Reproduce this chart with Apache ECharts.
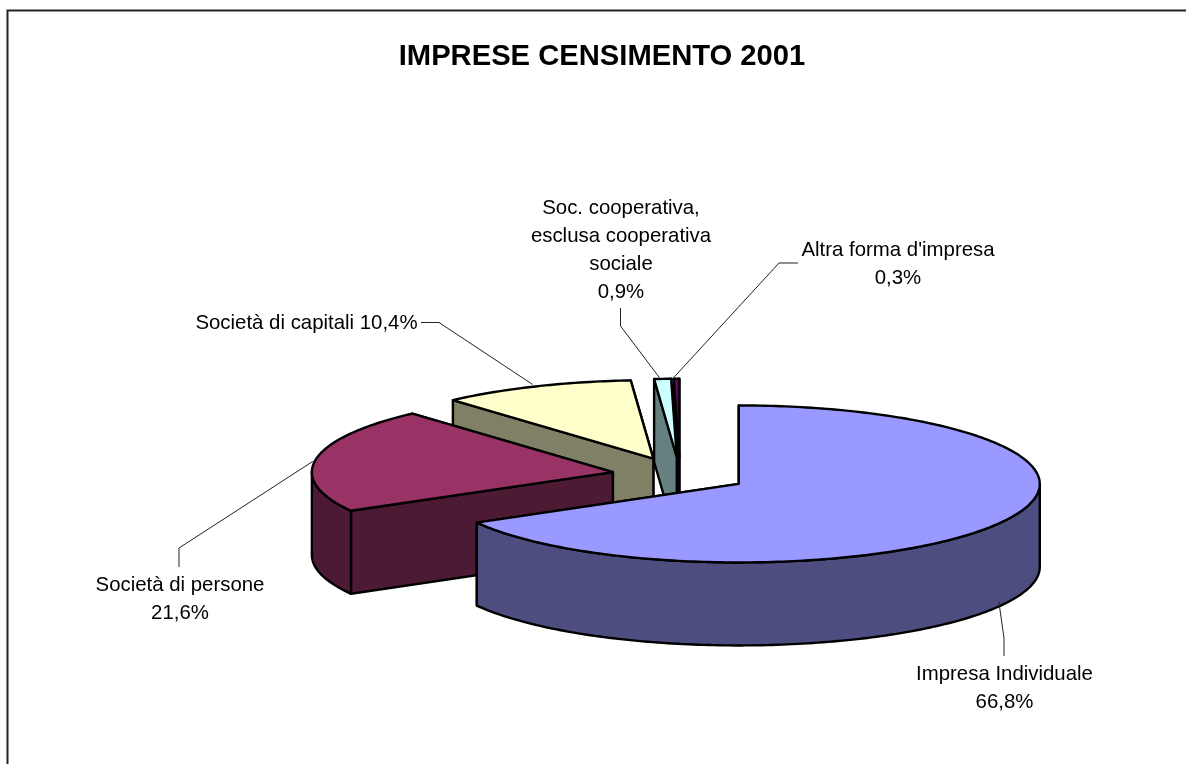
<!DOCTYPE html>
<html>
<head>
<meta charset="utf-8">
<style>html,body{margin:0;padding:0;background:#fff}#chart{width:1186px;height:764px}</style>
<script src="https://cdn.jsdelivr.net/npm/echarts@6/dist/echarts.min.js"></script>
</head>
<body>
<div id="chart"></div>
<script>
// Data
const categories = ['Impresa Individuale', 'Società di persone', 'Società di capitali', 'Soc. cooperativa, esclusa cooperativa sociale', "Altra forma d'impresa"];
const shares = [66.8, 21.6, 10.4, 0.9, 0.3];
const shareLabels = ['66,8%', '21,6%', '10,4%', '0,9%', '0,3%'];
const chartTitle = 'IMPRESE CENSIMENTO 2001';

// Styles and layout
const topColors = ['#9999FF', '#993366', '#FFFFCC', '#CCFFFF', '#660066'];
const sideColors = ['#4D4D80', '#4D1A33', '#808066', '#668080', '#330033'];
const paintOrder = [2, 4, 3, 1, 0];
const labelTexts = [
  'Impresa Individuale\n66,8%',
  'Società di persone\n21,6%',
  'Società di capitali 10,4%',
  'Soc. cooperativa,\nesclusa cooperativa\nsociale\n0,9%',
  "Altra forma d'impresa\n0,3%"
];
const labelCenters = [[1004.5, 688], [180, 599.5], [306.5, 323], [621, 250], [898, 264.5]];
const leaderElbows = [
  [[1004, 656], [1004, 638]],
  [[179, 567], [179, 548]],
  [[421, 322.5], [439, 322.5]],
  [[620.5, 308], [620.5, 326]],
  [[798, 263], [779, 263]]
];
const leaderShift = [[0, 0], [-3, 2], [-3, -2], [-3, -1], [-3, -1]];
const leaderDrop = [78, 0, 0, 0, 0];
const pie = {cx: 680, cy: 475, rx: 301, ry: 78.5, depth: 83, explode: 0.226};
const FONT = '"Liberation Sans", Arial, sans-serif';

const total = shares.reduce((a, b) => a + b, 0);
const slices = [];
let acc = 0;
shares.forEach((v) => {
  const a0 = acc / total * 2 * Math.PI;
  acc += v;
  const a1 = acc / total * 2 * Math.PI;
  const m = (a0 + a1) / 2;
  slices.push({a0, a1, m,
    ox: pie.cx + pie.explode * pie.rx * Math.sin(m),
    oy: pie.cy - pie.explode * pie.ry * Math.cos(m)});
});
function rim(s, a, dz) {
  return [s.ox + pie.rx * Math.sin(a), s.oy - pie.ry * Math.cos(a) + (dz || 0)];
}
function arcPts(s, a0, a1, dz) {
  const n = Math.max(2, Math.ceil((a1 - a0) / (Math.PI / 180)));
  const out = [];
  for (let i = 0; i <= n; i++) out.push(rim(s, a0 + (a1 - a0) * i / n, dz));
  return out;
}
function poly(points, fill) {
  return {type: 'polygon', shape: {points},
    style: {fill, stroke: '#000', lineWidth: 2.4, lineJoin: 'round'}};
}

function renderSlice(params, api) {
  const idx = api.value(0);
  const s = slices[idx];
  const d = pie.depth;
  const side = sideColors[idx];
  const kids = [];
  const wall = (a) => {
    const p = rim(s, a);
    kids.push(poly([p, [s.ox, s.oy], [s.ox, s.oy + d], [p[0], p[1] + d]], side));
  };
  wall(s.a1);
  wall(s.a0);
  const lo = Math.max(s.a0, Math.PI / 2), hi = Math.min(s.a1, Math.PI * 1.5);
  if (hi > lo) {
    kids.push(poly(arcPts(s, lo, hi, 0).concat(arcPts(s, lo, hi, d).reverse()), side));
  }
  kids.push(poly([[s.ox, s.oy]].concat(arcPts(s, s.a0, s.a1, 0)), topColors[idx]));
  return {type: 'group', children: kids};
}

function renderLabel(params, api) {
  const idx = api.value(0);
  const s = slices[idx];
  const c = labelCenters[idx];
  const r = rim(s, s.m, leaderDrop[idx]);
  const anchor = [r[0] + leaderShift[idx][0], r[1] + leaderShift[idx][1]];
  return {type: 'group', children: [
    {type: 'polyline', shape: {points: leaderElbows[idx].concat([anchor])},
      style: {fill: 'none', stroke: '#222', lineWidth: 1}},
    {type: 'text', style: {text: labelTexts[idx], x: c[0], y: c[1], align: 'center', verticalAlign: 'middle',
      font: '20.4px ' + FONT, lineHeight: 28, fill: '#000'}}
  ]};
}

const chart = echarts.init(document.getElementById('chart'), null, {renderer: 'canvas'});
chart.setOption({
  animation: false,
  backgroundColor: '#fff',
  title: {text: chartTitle, left: 597, top: 37, textAlign: 'center',
    textStyle: {fontFamily: FONT, fontWeight: 'bold', fontSize: 29.2, color: '#000'}},
  graphic: [{type: 'rect', z: -1, silent: true, shape: {x: 7.5, y: 10.5, width: 1400, height: 900},
    style: {fill: '#fff', stroke: '#222', lineWidth: 2}}],
  series: [
    {type: 'custom', coordinateSystem: 'none', silent: true, z: 2, clip: false,
      data: paintOrder.map(i => [i, shares[i]]), renderItem: renderSlice},
    {type: 'custom', coordinateSystem: 'none', silent: true, z: 3, clip: false,
      data: categories.map((c, i) => ({name: c + ' ' + shareLabels[i], value: [i, shares[i]]})), renderItem: renderLabel}
  ]
});
</script>
</body>
</html>
